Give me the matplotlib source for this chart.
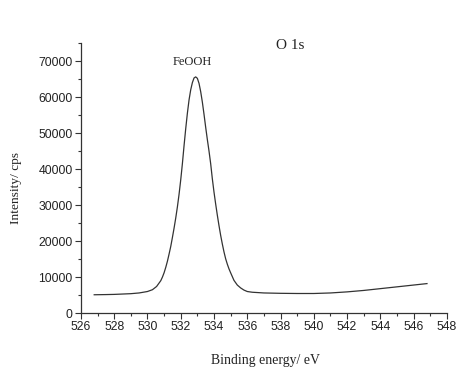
import matplotlib
matplotlib.use("Agg")
import matplotlib.pyplot as plt
from matplotlib.ticker import MultipleLocator

energy = [526.8, 527.5, 528.0, 528.5, 529.0, 529.5, 530.0, 530.3, 530.55, 530.8,
          530.9, 531.0, 531.1, 531.2, 531.3, 531.4, 531.5, 531.6, 531.7, 531.8,
          531.9, 532.0, 532.1, 532.2, 532.3, 532.4, 532.5, 532.6, 532.7, 532.8,
          532.9, 533.0, 533.1, 533.2, 533.3, 533.4, 533.5, 533.6, 533.7, 533.8,
          533.9, 534.0, 534.1, 534.2, 534.3, 534.4, 534.5, 534.6, 534.7, 534.8,
          534.9, 535.0, 535.2, 535.4, 535.6, 535.8, 536.0, 536.3,
          537.0, 538.0, 539.0, 540.0, 541.0, 542.0, 543.0, 544.0, 545.0, 546.0, 546.8]
intensity = [5100, 5150, 5200, 5300, 5400, 5600, 6000, 6500, 7400, 9000,
             10000, 11200, 12700, 14400, 16400, 18500, 21000, 23600, 26400, 29500,
             33000, 37000, 41500, 46500, 51200, 55500, 59200, 62000, 64000, 65300,
             65600, 65200, 63800, 61500, 58600, 55200, 51600, 48200, 45000, 41500,
             37300, 33600, 30300, 27200, 24300, 21600, 19200, 17000, 15100, 13600,
             12300, 11200, 9100, 7800, 7000, 6400, 6000, 5800,
             5600, 5500, 5450, 5450, 5600, 5900, 6300, 6800, 7300, 7800, 8200]

fig = plt.figure(figsize=(4.57, 3.71), dpi=100)
ax = fig.add_axes([0.177, 0.156, 0.801, 0.728])
ax.plot(energy, intensity, color="#333333", lw=0.9)
ax.set_xlim(526, 548)
ax.set_ylim(0, 75000)
ax.xaxis.set_major_locator(MultipleLocator(2))
ax.xaxis.set_minor_locator(MultipleLocator(1))
ax.yaxis.set_major_locator(MultipleLocator(10000))
ax.yaxis.set_minor_locator(MultipleLocator(5000))
for s in ["top", "right"]:
    ax.spines[s].set_visible(False)
for s in ["left", "bottom"]:
    ax.spines[s].set_color("#333333")
    ax.spines[s].set_linewidth(0.9)
ax.tick_params(which="major", direction="out", length=4, width=0.8, color="#333333",
               labelsize=8.8, labelcolor="#222222", pad=2)
ax.tick_params(which="minor", direction="out", length=2.5, width=0.8, color="#333333")
for lab in ax.get_xticklabels() + ax.get_yticklabels():
    lab.set_family("Liberation Sans")
ax.set_xlabel("Binding energy/ eV", family="Liberation Serif", fontsize=9.9, color="#222222")
ax.set_ylabel("Intensity/ cps", family="Liberation Serif", fontsize=9.6, color="#222222")
ax.xaxis.set_label_coords(0.503, -0.15)
ax.yaxis.set_label_coords(-0.16, 0.465)
ax.text(532.7, 69700, "FeOOH", family="Liberation Serif", fontsize=9,
        ha="center", va="center", color="#222222")
ax.text(538.6, 74200, "O 1s", family="Liberation Serif", fontsize=11,
        ha="center", va="center", color="#222222")
fig.savefig("out.png", dpi=100)
